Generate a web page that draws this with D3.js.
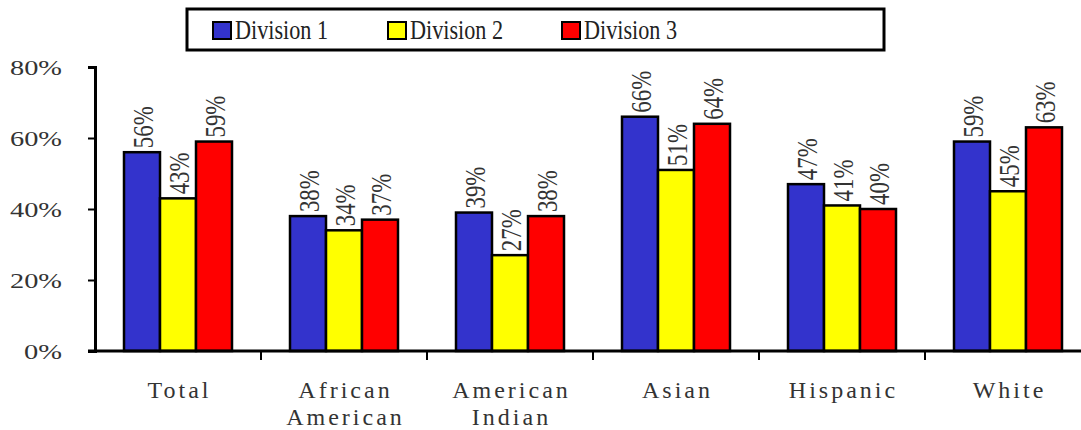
<!DOCTYPE html>
<html>
<head>
<meta charset="utf-8">
<script src="https://cdn.jsdelivr.net/npm/d3@7"></script>
<style>
body { margin: 0; background: #fff; }
</style>
</head>
<body>
<svg id="fig" width="1081" height="430"></svg>
<script>
var categories = [["Total"], ["African", "American"], ["American", "Indian"], ["Asian"], ["Hispanic"], ["White"]];
var series = ["Division 1", "Division 2", "Division 3"];
var div1 = [56, 38, 39, 66, 47, 59];
var div2 = [43, 34, 27, 51, 41, 45];
var div3 = [59, 37, 38, 64, 40, 63];
var yTicks = [0, 20, 40, 60, 80];
var colors = ["#3333cc", "#ffff00", "#ff0000"];

var serif = "Liberation Serif, DejaVu Serif, Times New Roman, serif";
var svg = d3.select("#fig").attr("font-family", serif);
var values = [div1, div2, div3];

var x = d3.scaleBand()
	.domain(d3.range(categories.length))
	.range([95, 1091]);
var inner = d3.scaleBand()
	.domain(d3.range(series.length))
	.range([0, 108]);
var y = d3.scaleLinear()
	.domain([0, 80])
	.range([351, 67]);

// y axis
var yAxis = svg.append("g")
	.attr("transform", "translate(95,0)")
	.call(d3.axisLeft(y).tickValues(yTicks).tickSize(7).tickFormat(d => d + "%"));
yAxis.attr("font-family", serif);
yAxis.select(".domain").attr("stroke", "#000").attr("stroke-width", 3);
yAxis.selectAll(".tick line").attr("stroke", "#000").attr("stroke-width", 2);
yAxis.selectAll(".tick text")
	.attr("x", -33)
	.attr("text-anchor", "end")
	.attr("font-size", 22)
	.attr("textLength", d => d == 0 ? 38 : 52)
	.attr("lengthAdjust", "spacingAndGlyphs")
	.attr("fill", "#333");

// bars
var groups = svg.append("g").selectAll("g")
	.data(categories)
	.enter().append("g")
	.attr("transform", (d, i) => "translate(" + (x(i) + (x.bandwidth() - 108) / 2) + ",0)");

series.forEach(function(s, si) {
	groups.append("rect")
		.attr("x", inner(si))
		.attr("y", (d, i) => y(values[si][i]))
		.attr("width", inner.bandwidth())
		.attr("height", (d, i) => y(0) - y(values[si][i]))
		.attr("fill", colors[si])
		.attr("stroke", "#000")
		.attr("stroke-width", 2.5);
	groups.append("text")
		.attr("transform", (d, i) => "translate(" + (inner(si) + inner.bandwidth() / 2 + 11) + "," + (y(values[si][i]) - 4) + ") rotate(-90)")
		.attr("font-size", 30)
		.attr("textLength", 42)
		.attr("lengthAdjust", "spacingAndGlyphs")
		.attr("fill", "#333")
		.text((d, i) => values[si][i] + "%");
});

// x axis
var xAxis = svg.append("g")
	.attr("transform", "translate(0," + y(0) + ")");
xAxis.append("line")
	.attr("x1", 88).attr("x2", 1081)
	.attr("stroke", "#000").attr("stroke-width", 3);
xAxis.selectAll(".xt")
	.data(d3.range(1, categories.length))
	.enter().append("line")
	.attr("x1", d => x(d)).attr("x2", d => x(d))
	.attr("y1", 0).attr("y2", 9)
	.attr("stroke", "#000").attr("stroke-width", 2);

var labels = svg.append("g").selectAll("text")
	.data(categories)
	.enter().append("text")
	.attr("text-anchor", "middle")
	.attr("x", (d, i) => x(i) + x.bandwidth() / 2 + 1.5)
	.attr("y", 398)
	.attr("font-size", 24)
	.attr("letter-spacing", 3)
	.attr("fill", "#333");
labels.selectAll("tspan")
	.data(d => d)
	.enter().append("tspan")
	.attr("x", function() { return this.parentNode.getAttribute("x"); })
	.attr("dy", (d, i) => i == 0 ? 0 : 27)
	.text(d => d);

// legend
var legend = svg.append("g");
legend.append("rect")
	.attr("x", 187).attr("y", 9)
	.attr("width", 697).attr("height", 41)
	.attr("fill", "#fff").attr("stroke", "#000").attr("stroke-width", 3);
var legendX = [213, 388, 562];
series.forEach(function(s, si) {
	legend.append("rect")
		.attr("x", legendX[si]).attr("y", 22)
		.attr("width", 18).attr("height", 17)
		.attr("fill", colors[si]).attr("stroke", "#000").attr("stroke-width", 2);
	legend.append("text")
		.attr("x", legendX[si] + 22).attr("y", 39)
		.attr("font-size", 27)
		.attr("textLength", 93)
		.attr("lengthAdjust", "spacingAndGlyphs")
		.attr("fill", "#222")
		.text(s);
});
</script>
</body>
</html>
